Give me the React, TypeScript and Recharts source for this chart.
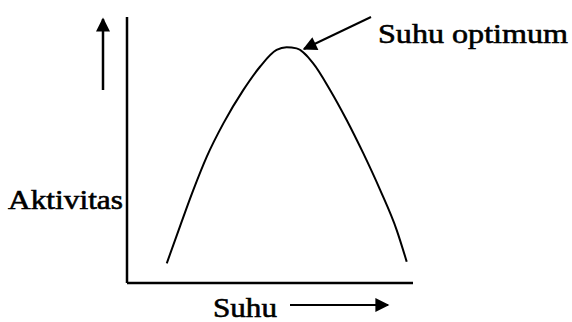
import React from 'react'
import { ComposedChart, Line, XAxis, YAxis, Customized } from 'recharts'

// Suhu (temperature, arbitrary units 0-100) and Aktivitas (activity, 0-100)
const suhu = [13.9, 18.5, 23.2, 27.9, 33.7, 40.7, 46.5, 52.3, 55.8, 59.3, 65.1, 71.0, 76.8, 82.6, 88.5, 94.3, 97.8]
const aktivitas = [7.4, 21.2, 35.0, 47.5, 60.0, 72.6, 81.3, 87.6, 88.6, 88.2, 82.6, 72.6, 61.3, 48.8, 35.0, 19.9, 8.0]

const xLabel = 'Suhu'
const yLabel = 'Aktivitas'
const peakLabel = 'Suhu optimum'

const data = suhu.map((s, i) => ({ suhu: s, aktivitas: aktivitas[i] }))

const textStyle = { fontFamily: 'Liberation Serif, serif', fill: '#000', stroke: '#000', strokeWidth: 0.6 }

const Annotations = () => (
  <g>
    <defs>
      <marker id="headBig" viewBox="0 0 10 10" refX="9" refY="5" markerWidth="16" markerHeight="14" orient="auto" markerUnits="userSpaceOnUse">
        <path d="M0,0 L10,5 L0,10 z" fill="#000" />
      </marker>
    </defs>
    {/* up arrow beside the y axis */}
    <line x1={103} y1={90} x2={103} y2={19} stroke="#000" strokeWidth={2.5} markerEnd="url(#headBig)" />
    {/* right arrow beside x label */}
    <line x1={290} y1={305} x2={388} y2={305} stroke="#000" strokeWidth={2} markerEnd="url(#headBig)" />
    {/* arrow to peak */}
    <line x1={371} y1={17} x2={304} y2={49} stroke="#000" strokeWidth={2} markerEnd="url(#headBig)" />
    <text x={8} y={209} style={textStyle} fontSize={27} textLength={115} lengthAdjust="spacingAndGlyphs">{yLabel}</text>
    <text x={213} y={317} style={textStyle} fontSize={27} textLength={64} lengthAdjust="spacingAndGlyphs">{xLabel}</text>
    <text x={378} y={43} style={textStyle} fontSize={28} textLength={190} lengthAdjust="spacingAndGlyphs">{peakLabel}</text>
  </g>
)

export default function App() {
  return (
    <div style={{ position: 'absolute', left: 0, top: 0, background: '#fff' }}>
      <ComposedChart width={572} height={322} data={data} margin={{ top: 17, right: 159, bottom: 38, left: 126 }}>
        <XAxis dataKey="suhu" type="number" domain={[0, 100]} tick={false} tickLine={false} height={1}
          axisLine={{ stroke: '#000', strokeWidth: 2.5 }} />
        <YAxis type="number" domain={[0, 100]} tick={false} tickLine={false} width={1}
          axisLine={{ stroke: '#000', strokeWidth: 2.5 }} />
        <Line type="monotone" dataKey="aktivitas" stroke="#000" strokeWidth={2} dot={false} isAnimationActive={false} />
        <Customized component={Annotations} />
      </ComposedChart>
    </div>
  )
}
